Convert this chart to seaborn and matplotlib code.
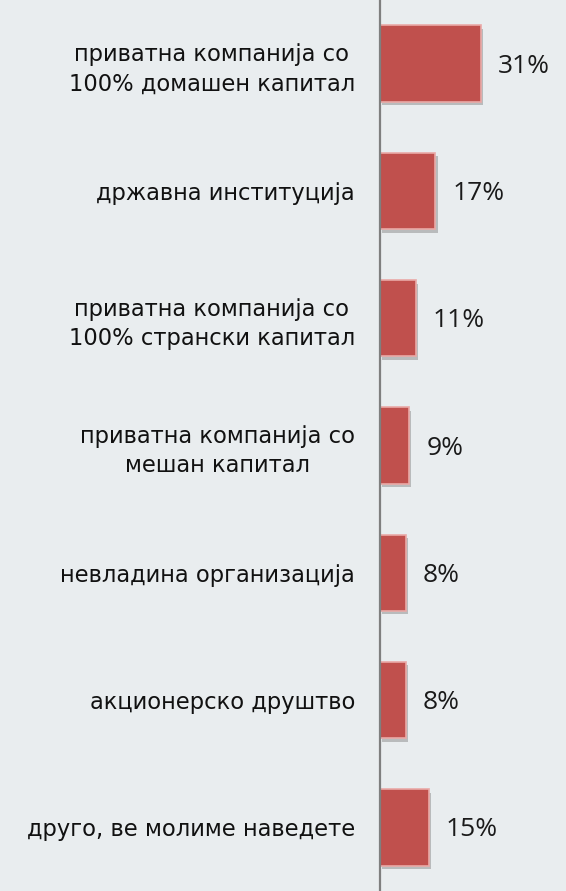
import matplotlib
matplotlib.use("Agg")
import matplotlib.pyplot as plt
import matplotlib.patheffects as pe
import seaborn as sns
import pandas as pd

categories = [
    "приватна компанија со\n100% домашен капитал",
    "државна институција",
    "приватна компанија со\n100% странски капитал",
    "приватна компанија со\nмешан капитал",
    "невладина организација",
    "акционерско друштво",
    "друго, ве молиме наведете",
]
values = [31, 17, 11, 9, 8, 8, 15]
value_labels = ["31%", "17%", "11%", "9%", "8%", "8%", "15%"]

df = pd.DataFrame({"category": categories, "value": values})

bg = "#e9edef"
sns.set_theme(style="white")

fig = plt.figure(figsize=(5.66, 8.91), dpi=100, facecolor=bg)
ax = fig.add_axes([380 / 566, 0.0, 186 / 566, 1.0])
ax.set_facecolor(bg)

sns.barplot(data=df, x="value", y="category", orient="h", color="#c0504d",
            saturation=1, width=0.6, ax=ax, edgecolor="#eaa9a7", linewidth=1.2)

for p in ax.patches:
    p.set_path_effects([pe.SimplePatchShadow(offset=(1.5, -2.5), shadow_rgbFace="#9a9a9a", alpha=0.6),
                        pe.Normal()])

ax.set_xlim(0, 57)
ax.set_ylim(6.5, -0.5)
ax.set_xlabel("")
ax.set_ylabel("")
ax.set_xticks([])

ax.set_yticks(range(len(categories)))
ax.set_yticklabels(categories, fontsize=16.3, family=["DejaVu Sans"], ha="right",
                   multialignment="center", linespacing=1.35, color="#111111")
ax.tick_params(axis="y", length=0, pad=18)

for s in ["top", "right", "bottom"]:
    ax.spines[s].set_visible(False)
ax.spines["left"].set_color("#7f7f7f")
ax.spines["left"].set_linewidth(1.6)

for i, (v, lab) in enumerate(zip(values, value_labels)):
    ax.text(v + 5.2, i + 0.02, lab, va="center", ha="left", fontsize=19,
            family=["Open Sans", "DejaVu Sans"], color="#1a1a1a")

fig.savefig("out.png", dpi=100, facecolor=bg)
